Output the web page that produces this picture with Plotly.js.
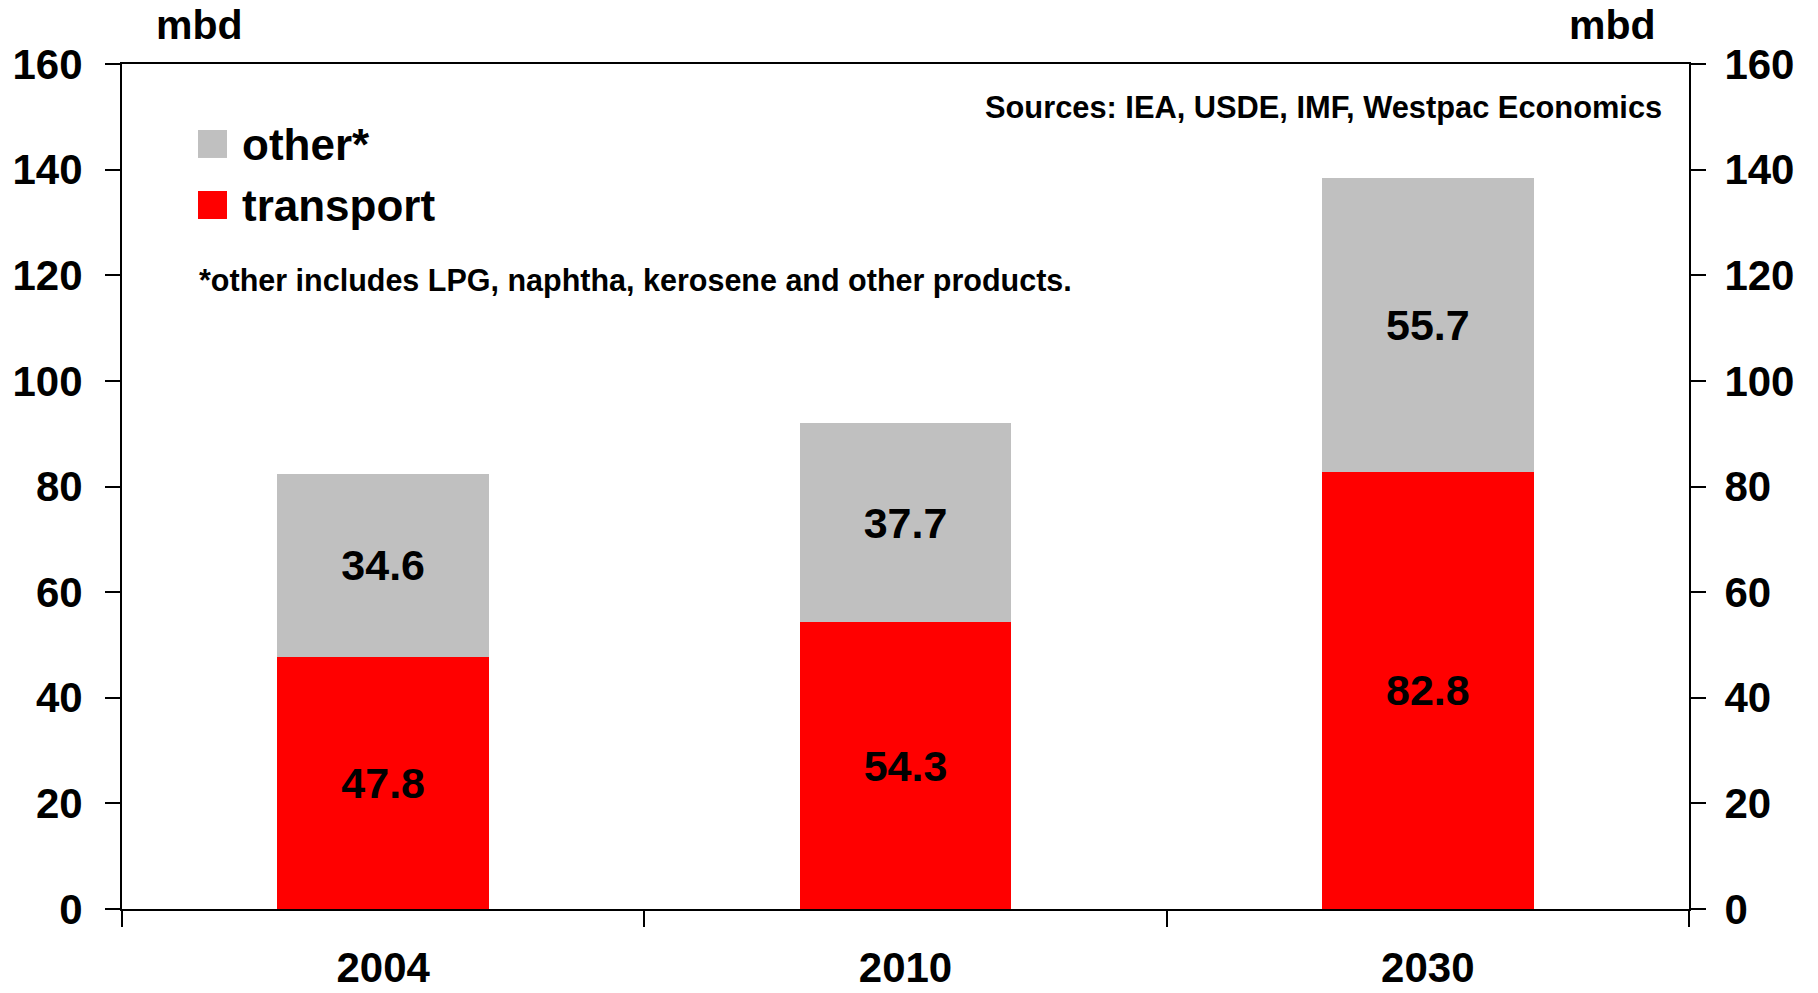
<!DOCTYPE html>
<html>
<head>
<meta charset="utf-8">
<script src="https://cdn.plot.ly/plotly-3.0.1.min.js"></script>
<style>html,body{margin:0;padding:0;background:#fff;}#chart{width:1818px;height:993px;}</style>
</head>
<body>
<div id="chart"></div>
<script>
var years = ['2004', '2010', '2030'];
var transport = [47.8, 54.3, 82.8];
var other = [34.6, 37.7, 55.7];
var yTicks = [0, 20, 40, 60, 80, 100, 120, 140, 160];
var seriesNames = ['transport', 'other*'];
var seriesColors = ['#FF0000', '#C0C0C0'];
var unitLabel = 'mbd';
var sourceText = 'Sources: IEA, USDE, IMF, Westpac Economics';
var noteText = '*other includes LPG, naphtha, kerosene and other products.';

var FONT = 'Liberation Sans, Arial, Helvetica, sans-serif';

function barTrace(vals, name, color) {
  return {
    type: 'bar', x: years, y: vals, name: name,
    marker: {color: color, line: {width: 0}},
    texttemplate: '%{y:.1f}', textposition: 'inside', insidetextanchor: 'middle',
    constraintext: 'none',
    textfont: {family: FONT, size: 43, color: '#000', weight: 'bold'},
    hoverinfo: 'x+y', showlegend: false
  };
}

var data = [
  barTrace(transport, seriesNames[0], seriesColors[0]),
  barTrace(other, seriesNames[1], seriesColors[1]),
  // invisible helper so the right-hand axis is drawn
  {type: 'scatter', x: years, y: transport, yaxis: 'y2', mode: 'markers',
   marker: {opacity: 0, size: 1}, hoverinfo: 'skip', showlegend: false}
];

var axisFont = {family: FONT, size: 42, color: '#000', weight: 'bold'};

var layout = {
  width: 1818, height: 993,
  margin: {l: 122, r: 129, t: 64, b: 84, pad: 0},
  paper_bgcolor: '#fff', plot_bgcolor: '#fff',
  barmode: 'stack', bargap: 0.595,
  font: {family: FONT, color: '#000'},
  xaxis: {
    type: 'category', range: [-0.5, 2.5],
    showline: true, linecolor: '#000', linewidth: 2, mirror: true,
    ticks: 'outside', tickson: 'boundaries', ticklen: 16, tickwidth: 2, tickcolor: '#000',
    tickfont: {family: FONT, size: 42, color: '#000', weight: 'bold'}, ticklabelstandoff: 21,
    showgrid: false, zeroline: false, fixedrange: true
  },
  yaxis: {
    range: [0, 160], tickvals: yTicks, ticktext: yTicks.map(String),
    showline: true, linecolor: '#000', linewidth: 2,
    ticks: 'outside', ticklen: 15, tickwidth: 2, tickcolor: '#000',
    tickfont: axisFont, ticklabelstandoff: 14,
    showgrid: false, zeroline: false, fixedrange: true
  },
  yaxis2: {
    overlaying: 'y', side: 'right', anchor: 'x', range: [0, 160], tickvals: yTicks, ticktext: yTicks.map(String),
    showline: true, linecolor: '#000', linewidth: 2,
    ticks: 'outside', ticklen: 15, tickwidth: 2, tickcolor: '#000',
    tickfont: axisFont, ticklabelstandoff: 10,
    showgrid: false, zeroline: false, fixedrange: true
  },
  shapes: [
    {type: 'rect', xref: 'paper', yref: 'paper', x0: 0.0485, x1: 0.067, y0: 0.8888, y1: 0.9219,
     fillcolor: seriesColors[1], line: {width: 0}},
    {type: 'rect', xref: 'paper', yref: 'paper', x0: 0.0485, x1: 0.067, y0: 0.8166, y1: 0.8497,
     fillcolor: seriesColors[0], line: {width: 0}}
  ],
  annotations: [
    {xref: 'paper', yref: 'paper', x: 0.0495, y: 1, yanchor: 'bottom', xanchor: 'center', yshift: 14,
     text: unitLabel, showarrow: false, font: {family: FONT, size: 41, color: '#000', weight: 'bold'}},
    {xref: 'paper', yref: 'paper', x: 0.951, y: 1, yanchor: 'bottom', xanchor: 'center', yshift: 14,
     text: unitLabel, showarrow: false, font: {family: FONT, size: 41, color: '#000', weight: 'bold'}},
    {xref: 'paper', yref: 'paper', x: 0.984, y: 0.948, xanchor: 'right', yanchor: 'middle',
     text: sourceText, showarrow: false, font: {family: FONT, size: 30.8, color: '#000', weight: 'bold'}},
    {xref: 'paper', yref: 'paper', x: 0.0753, y: 0.9053, xanchor: 'left', yanchor: 'middle',
     text: seriesNames[1], showarrow: false, font: {family: FONT, size: 44, color: '#000', weight: 'bold'}},
    {xref: 'paper', yref: 'paper', x: 0.0753, y: 0.8331, xanchor: 'left', yanchor: 'middle',
     text: seriesNames[0], showarrow: false, font: {family: FONT, size: 44, color: '#000', weight: 'bold'}},
    {xref: 'paper', yref: 'paper', x: 0.0479, y: 0.7432, xanchor: 'left', yanchor: 'middle',
     text: noteText, showarrow: false, font: {family: FONT, size: 30.5, color: '#000', weight: 'bold'}}
  ]
};

Plotly.newPlot('chart', data, layout, {displayModeBar: false, staticPlot: true});
</script>
</body>
</html>
